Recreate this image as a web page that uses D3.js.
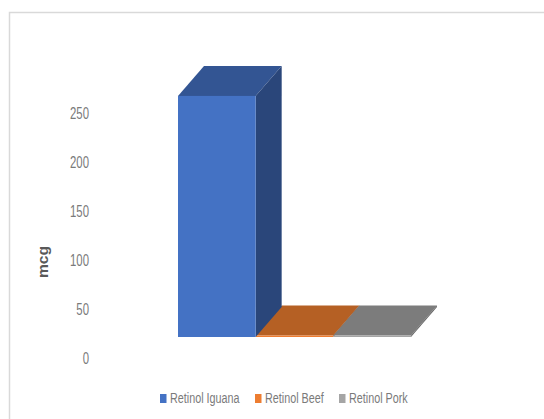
<!DOCTYPE html>
<html><head><meta charset="utf-8">
<script src="https://cdnjs.cloudflare.com/ajax/libs/d3/7.8.5/d3.min.js"></script>
<style>html,body{margin:0;padding:0;background:#fff}svg{display:block}
text{font-family:"Liberation Sans",sans-serif}</style></head>
<body><svg id="c" width="544" height="419"></svg>
<script>
const categories=["Retinol Iguana","Retinol Beef","Retinol Pork"];
const values=[246,1.5,1.5];
const tickValues=[0,50,100,150,200,250];
const frontColors=["#4472C4","#ED7D31","#A5A5A5"];
const topColors=["#335593","#B56024","#7C7C7C"];
const sideColors=["#2A467A","#8F4C1D","#636363"];
const legendX=[160,255,339];
const svg=d3.select("#c");
svg.append("path").attr("d","M544,12.5H9.5V419").attr("fill","none").attr("stroke","#d9d9d9").attr("stroke-width",1.5);
const x=d3.scaleBand().domain(categories).range([178,411]);
const y=d3.scaleLinear().domain([0,250]).range([337,92]);
const axisY=d3.scaleLinear().domain([0,250]).range([358,113]);
const dx=26,dy=-30;
const line=d3.line();
function squeeze(sel,k){sel.each(function(){this.setAttribute("textLength",this.getComputedTextLength()*k);this.setAttribute("lengthAdjust","spacingAndGlyphs");});}
const bars=svg.append("g").selectAll("g").data(categories.map((c,i)=>({c,i,v:values[i]}))).join("g");
bars.append("path").attr("fill",d=>topColors[d.i]).attr("d",d=>{const a=x(d.c),b=a+x.bandwidth(),t=y(d.v);
  return line([[a,t],[b,t],[b+dx,t+dy],[a+dx,t+dy]])+"Z";});
bars.append("path").attr("fill",d=>sideColors[d.i]).attr("d",d=>{const b=x(d.c)+x.bandwidth(),t=y(d.v),z=y(0);
  return line([[b,t],[b+dx,t+dy],[b+dx,z+dy],[b,z]])+"Z";});
bars.append("rect").attr("fill",d=>frontColors[d.i]).attr("x",d=>x(d.c)).attr("width",x.bandwidth())
  .attr("y",d=>y(d.v)).attr("height",d=>y(0)-y(d.v));
bars.filter(d=>d.i===0).raise();
const ax=svg.append("g").attr("transform","translate(89,0)")
  .call(d3.axisLeft(axisY).tickValues(tickValues).tickSize(0).tickPadding(0));
ax.select(".domain").remove();
ax.selectAll("text").attr("fill","#7a7a7a").style("font-size","16px").style("font-family",'"Liberation Sans",sans-serif').call(squeeze,0.71);
svg.append("text").text("mcg").attr("transform","translate(48,262) rotate(-90)").attr("text-anchor","middle")
  .attr("fill","#595959").style("font-size","14.5px").style("font-weight","bold").call(squeeze,1.08);
const lg=svg.append("g").selectAll("g").data(categories).join("g").attr("transform",(d,i)=>`translate(${legendX[i]},0)`);
lg.append("rect").attr("y",394).attr("width",6.5).attr("height",9).attr("fill",(d,i)=>frontColors[i]);
lg.append("text").text(d=>d).attr("x",10).attr("y",403).attr("fill","#7a7a7a").style("font-size","15.5px").call(squeeze,0.695);
</script></body></html>
